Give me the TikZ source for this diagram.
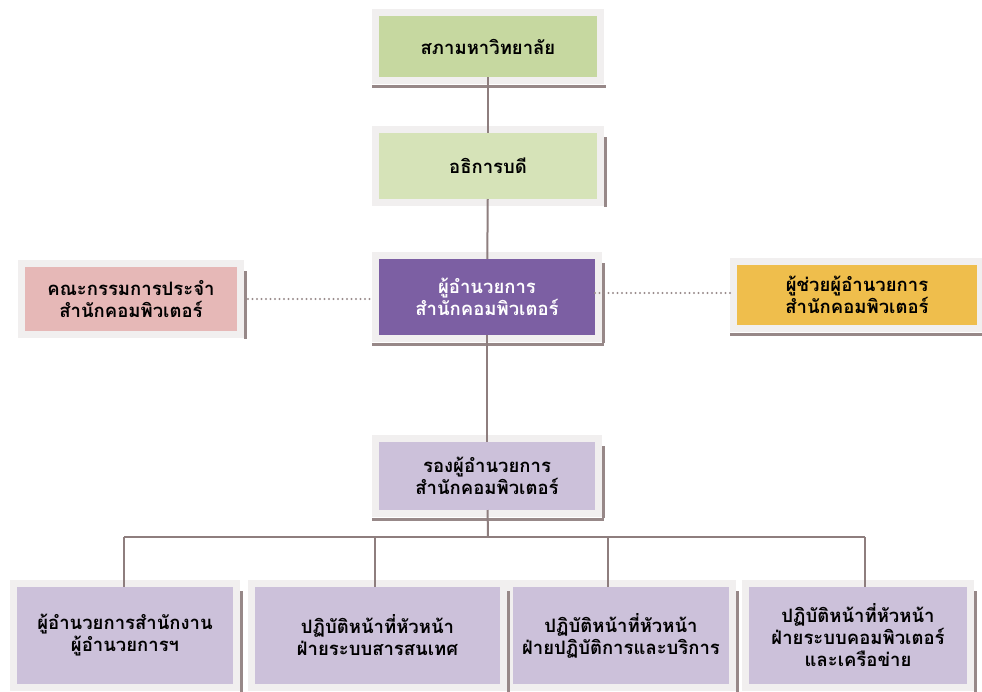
\documentclass[tikz,border=0pt]{standalone}
\usepackage{fontspec}
\newfontfamily\thaifont[Script=Thai]{Loma}
\definecolor{univgreen}{HTML}{C6D8A0}
\definecolor{presgreen}{HTML}{D6E3B8}
\definecolor{dirpurple}{HTML}{7C5FA3}
\definecolor{boardpink}{HTML}{E6B8B7}
\definecolor{asstgold}{HTML}{EFBE4C}
\definecolor{lavender}{HTML}{CCC1DA}
\definecolor{framegray}{HTML}{F1EFEF}
\definecolor{linkgray}{HTML}{8E7E7E}
\definecolor{shadegray}{HTML}{978888}
\definecolor{dotgray}{HTML}{9A8C8C}

\begin{document}
\begin{tikzpicture}[x=1pt,y=-1pt,
    orgbox/.style={rectangle, align=center, inner sep=2pt, outer sep=0pt,
        font=\thaifont\bfseries\fontsize{18.5}{22}\selectfont,
        preaction={draw=framegray, line width=14pt}},
    link/.style={draw=linkgray, line width=2pt},
    dotlink/.style={draw=dotgray, line width=2.4pt, dash pattern=on 0pt off 4.5pt, line cap=round},
    shadeline/.style={draw=shadegray, line width=3pt}]
    \useasboundingbox[fill=white] (0,0) rectangle (982,691);
    % Nos superiores
    \node[orgbox, fill=univgreen, minimum width=218pt, minimum height=61pt] (univ) at (488,46.5) {สภามหาวิทยาลัย};
    \node[orgbox, fill=presgreen, minimum width=218pt, minimum height=66pt] (pres) at (488,166) {อธิการบดี};
    \node[orgbox, fill=dirpurple, text=white, minimum width=216pt, minimum height=76pt] (dir) at (487,297) {ผู้อำนวยการ\\สำนักคอมพิวเตอร์};
    \node[orgbox, fill=boardpink, minimum width=212pt, minimum height=64pt] (board) at (131,299) {คณะกรรมการประจำ\\สำนักคอมพิวเตอร์};
    \node[orgbox, fill=asstgold, minimum width=240pt, minimum height=60pt] (asst) at (857,295) {ผู้ช่วยผู้อำนวยการ\\สำนักคอมพิวเตอร์};
    \node[orgbox, fill=lavender, minimum width=216pt, minimum height=68pt] (deputy) at (487,476) {รองผู้อำนวยการ\\สำนักคอมพิวเตอร์};
    % Nos inferiores
    \node[orgbox, fill=lavender, minimum width=216pt, minimum height=97pt] (b1) at (125,635.5) {ผู้อำนวยการสำนักงาน\\ผู้อำนวยการฯ};
    \node[orgbox, fill=lavender, minimum width=245pt, minimum height=97pt] (b2) at (377.5,635.5) {ปฏิบัติหน้าที่หัวหน้า\\ฝ่ายระบบสารสนเทศ};
    \node[orgbox, fill=lavender, minimum width=216pt, minimum height=97pt] (b3) at (621,635.5) {ปฏิบัติหน้าที่หัวหน้า\\ฝ่ายปฏิบัติการและบริการ};
    \node[orgbox, fill=lavender, minimum width=218pt, minimum height=97pt] (b4) at (858,635.5) {ปฏิบัติหน้าที่หัวหน้า\\ฝ่ายระบบคอมพิวเตอร์\\และเครือข่าย};
    % Sombras
    \foreach \n in {pres, dir, board, deputy, b1, b2, b3, b4}
        \draw[shadeline] ([shift={(8pt,-4pt)}]\n.north east) -- ([shift={(8pt,-8pt)}]\n.south east);
    \foreach \n in {univ, dir, asst, deputy}
        \draw[shadeline] ([shift={(-7pt,-9pt)}]\n.south west) -- ([shift={(9pt,-9pt)}]\n.south east);
    % Ligacoes
    \draw[link] (univ) -- (pres);
    \draw[link] (pres) -- (dir);
    \draw[link] (dir) -- (deputy);
    \coordinate (bus) at (488,537);
    \coordinate (d1) at (124,537);
    \coordinate (d2) at (375,537);
    \coordinate (d3) at (608,537);
    \coordinate (d4) at (865,537);
    \draw[link] (deputy) -- (bus);
    \draw[link] (d1) -- (d4);
    \foreach \d/\b in {d1/b1, d2/b2, d3/b3, d4/b4}
        \draw[link] (\d) -- (\d |- \b.north);
    % Ligacoes pontilhadas
    \draw[dotlink] ([xshift=11pt]board.east) -- ([xshift=-9pt]board.east -| dir.west);
    \draw[dotlink] ([yshift=4pt]dir.east) -- ([xshift=-6pt,yshift=4pt]dir.east -| asst.west);
\end{tikzpicture}
\end{document}
